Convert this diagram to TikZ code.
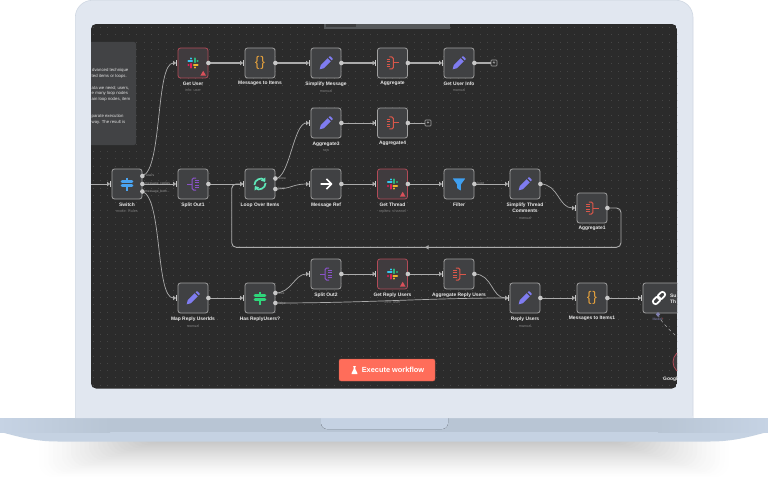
\documentclass[tikz,border=0pt]{standalone}
\usepackage{fontspec}
\setmainfont{Liberation Sans}
\usetikzlibrary{arrows.meta}
\definecolor{lidc}{HTML}{E1E7F0}
\definecolor{lidedge}{HTML}{D0D8E3}
\definecolor{basetop}{HTML}{B8C5D4}
\definecolor{baselight}{HTML}{C6D3E4}
\definecolor{baselow}{HTML}{C5D2E2}
\definecolor{notchedge}{HTML}{C5D2E3}
\definecolor{screenc}{HTML}{2B2B2B}
\definecolor{griddot}{HTML}{454545}
\definecolor{notec}{HTML}{424345}
\definecolor{notchc}{HTML}{55585A}
\definecolor{nodefill}{HTML}{404143}
\definecolor{nodeedge}{HTML}{A0A0A0}
\definecolor{rededge}{HTML}{B24B58}
\definecolor{redfill}{HTML}{403B3E}
\definecolor{wirec}{HTML}{ABABAB}
\definecolor{dotc}{HTML}{C8C8C8}
\definecolor{subc}{HTML}{7C7C7C}
\definecolor{tagc}{HTML}{A0A0A0}
\definecolor{slackblue}{HTML}{36C5F0}
\definecolor{slackgreen}{HTML}{2EB67D}
\definecolor{slackyellow}{HTML}{ECB22E}
\definecolor{slackred}{HTML}{E01E5A}
\definecolor{warnc}{HTML}{D9505A}
\definecolor{penc}{HTML}{7F7CF0}
\definecolor{aggc}{HTML}{D9574A}
\definecolor{splitc}{HTML}{8A52C9}
\definecolor{loopc}{HTML}{5EE6B8}
\definecolor{filterc}{HTML}{3F9FF0}
\definecolor{switchc}{HTML}{4AA3F0}
\definecolor{hasc}{HTML}{2FD67B}
\definecolor{bracec}{HTML}{E8A33D}
\definecolor{btnc}{HTML}{FF6D5A}
\definecolor{btnedge}{HTML}{C95A4A}
\definecolor{modelc}{HTML}{8080B0}
\newcommand\fsz[1]{\fontsize{#1}{#1}\selectfont}
\tikzset{
  wf/.style={draw=nodeedge,fill=nodefill,line width=0.8pt,rounded corners=2.5pt,minimum size=30pt,inner sep=0pt},
  wfred/.style={wf,draw=rededge,fill=redfill},
  wflabel/.style={inner sep=0pt,text=white!92!black,font=\fsz{4.9}\bfseries,align=center},
  wfsub/.style={inner sep=0pt,text=subc,font=\fsz{3.8}},
  wftag/.style={inner sep=0pt,text=tagc,font=\fsz{3.3},anchor=west},
  notetext/.style={inner sep=0pt,text=white!88!black,font=\fsz{4.3},anchor=west},
  wire/.style={draw=wirec,line width=0.9pt,shorten >=1.5pt,-{Triangle[length=3pt,width=4.4pt]}},
  wirethick/.style={wire,line width=1.5pt},
  wireplain/.style={draw=wirec,line width=0.9pt},
  plusbox/.style={draw=nodeedge,rounded corners=0.8pt,line width=0.6pt,minimum size=6pt,inner sep=0pt,text=white,font=\fsz{5}},
  iconslack/.pic={
    \draw[slackblue,line width=2.3pt,line cap=round] (-4.6,-1.7)--(-0.9,-1.7) (-1.7,-4.6)--(-1.7,-4.5);
    \draw[slackgreen,line width=2.3pt,line cap=round] (1.7,-4.6)--(1.7,-0.9) (4.6,-1.7)--(4.5,-1.7);
    \draw[slackyellow,line width=2.3pt,line cap=round] (0.9,1.7)--(4.6,1.7) (1.7,4.6)--(1.7,4.5);
    \draw[slackred,line width=2.3pt,line cap=round] (-1.7,0.9)--(-1.7,4.6) (-4.6,1.7)--(-4.5,1.7);
    \fill[warnc] (10.2,7.8)--(13,12.6)--(7.4,12.6)--cycle;
  },
  iconbrace/.pic={\node[inner sep=0pt,text=bracec,font=\fsz{14}] {\{\kern0.8pt\}};},
  iconpen/.pic={
    \fill[penc] (-6.3,6.3)--(-5.2,2)--(1.6,-4.8)--(4.8,-1.6)--(-2,5.2)--cycle;
    \fill[penc] (2.6,-5.8)--(3.6,-6.6)--(4.6,-6.6)--(6.6,-4.6)--(6.6,-3.6)--(5.8,-2.6)--cycle;
  },
  iconagg/.pic={
    \draw[aggc,line width=0.9pt,line join=round] (-6,-3.9)--(-2.2,-3.9) (-6,-1.3)--(-2.2,-1.3) (-6,1.3)--(-2.2,1.3) (-6,3.9)--(-2.2,3.9);
    \draw[aggc,line width=1pt,rounded corners=1.5pt] (-3.2,-6)--(0.8,-6)--(0.8,6)--(-3.2,6);
    \draw[aggc,line width=1pt] (0.8,0)--(6.5,0);
  },
  iconsplit/.pic={
    \draw[splitc,line width=0.9pt] (6,-3.9)--(2.2,-3.9) (6,-1.3)--(2.2,-1.3) (6,1.3)--(2.2,1.3) (6,3.9)--(2.2,3.9);
    \draw[splitc,line width=1pt,rounded corners=1.5pt] (3.2,-6)--(-0.8,-6)--(-0.8,6)--(3.2,6);
    \draw[splitc,line width=1pt] (-0.8,0)--(-6.5,0);
  },
  iconloop/.pic={
    \draw[loopc,line width=1.7pt,-{Triangle[length=3.6pt,width=5.4pt]}] (-5.6,1) .. controls (-5.6,-5) and (2,-6.5) .. (5.2,-2);
    \draw[loopc,line width=1.7pt,-{Triangle[length=3.6pt,width=5.4pt]}] (5.6,-1) .. controls (5.6,5) and (-2,6.5) .. (-5.2,2);
  },
  iconarrow/.pic={
    \draw[white,line width=1.6pt,line join=round] (-5.5,0)--(5.5,0) (0.4,-5)--(5.5,0)--(0.4,5);
  },
  iconfilter/.pic={
    \fill[filterc,rounded corners=0.5pt] (-6.3,-5.6)--(6.3,-5.6)--(1.8,0.6)--(1.8,6.6)--(-1.8,4.4)--(-1.8,0.6)--cycle;
  },
  iconswitch/.pic={
    \draw[switchc,line width=2.7pt,line cap=round] (-5,-2.8)--(5,-2.8) (-5,1.8)--(5,1.8);
    \draw[switchc,line width=1.5pt] (0,-6.5)--(0,-4) (0,3)--(0,6.5);
  },
  iconhas/.pic={
    \draw[hasc,line width=2.7pt,line cap=round] (-5,-2.8)--(5,-2.8) (-5,1.8)--(5,1.8);
    \draw[hasc,line width=1.5pt] (0,-6.5)--(0,-4) (0,3)--(0,6.5);
  },
  iconlink/.pic={
    \draw[white,line width=1.7pt,rounded corners=2.4pt,rotate=45] (-7.5,-2.6) rectangle (0.8,2.6);
    \draw[white,line width=1.7pt,rounded corners=2.4pt,rotate=45] (-0.8,-2.6) rectangle (7.5,2.6);
  },
  iconflask/.pic={
    \fill[white] (-1.6,-5)--(1.6,-5)--(1.6,-4.2)--(1.1,-4.2)--(1.1,-1)--(3.7,4)--(3.7,5)--(-3.7,5)--(-3.7,4)--(-1.1,-1)--(-1.1,-4.2)--(-1.6,-4.2)--cycle;
  }
}
% [node style]{name}{x}{y}{icon}{label}{sublabel}
\newcommand\wfnode[7][wf]{%
  \node[#1] (#2) at (#3,#4) {};
  \pic at (#2) {#5};
  \node[wflabel,anchor=north] (#2-l) at ([yshift=-3pt]#2.south) {#6};
  \if\relax\detokenize{#7}\relax\else
    \node[wfsub,anchor=north] (#2-s) at ([yshift=-3.2pt]#2-l.south) {#7};
  \fi
}
\begin{document}
\begin{tikzpicture}[x=1pt,y=-1pt]
\useasboundingbox (0,0) rectangle (768,484);
\fill[white] (0,0) rectangle (768,484);
% shadow under the laptop
\begin{scope}
  \clip (0,441) rectangle (768,484);
  \foreach \i in {0,...,24}{
    \pgfmathsetmacro\ins{35+\i*4.5}
    \pgfmathsetmacro\bot{478-\i*1.5}
    \pgfmathsetmacro\shd{22*(\i/24)^1.3}
    \fill[black!\shd!white,rounded corners=14pt] (\ins,420) rectangle ({768-\ins},\bot);
  }
\end{scope}
% base
\fill[baselow] (0,418)--(0.5,432) .. controls (18,436.5) and (34,441.5) .. (58,441.5)--(710,441.5) .. controls (734,441.5) and (750,436.5) .. (767.5,432)--(768,418)--cycle;
\fill[left color=baselight,right color=basetop] (0,418) rectangle (110,432);
\fill[basetop] (110,418) rectangle (658,432);
\fill[right color=baselight,left color=basetop] (658,418) rectangle (768,432);
\fill[left color=notchedge,middle color=lidc,right color=notchedge,rounded corners=6pt] (321,412) rectangle (448,429);
% lid
\draw[lidedge,fill=lidc,line width=0.6pt,rounded corners=17pt] (75.3,418)--(75.3,0.3)--(693,0.3)--(693,418);
\fill[lidc] (75.7,416) rectangle (692.6,418);
% screen
\begin{scope}
\clip[rounded corners=5pt] (91,24) rectangle (677,388.5);
\fill[screenc] (91,24) rectangle (677,389);
\foreach \gx in {0,...,80}{
  \draw[griddot,line width=0.75pt,dash pattern=on 0.75pt off 6.55pt] ({93+\gx*7.3},27) -- ({93+\gx*7.3},389);
}
\fill[notchc] (324,24) rectangle (450,29.5);
\fill[screenc!60!notchc] (326,24) rectangle (356,27);
% sticky note
\fill[notec,rounded corners=2pt] (80,42) rectangle (136,145);
\node[notetext] (n1) at (92,70.7) {dvanced technique};
\node[notetext] (n2) at (91.5,76.3) {ted items or loops.};
\node[notetext] (n3) at (91.5,88) {ata we need; users,};
\node[notetext] (n4) at (91.5,93.7) {e many loop nodes};
\node[notetext] (n5) at (91.5,99.3) {ain loop nodes, item};
\node[notetext] (n6) at (91.5,116.7) {parate execution};
\node[notetext] (n7) at (91.5,122.3) {way. The result is};
% nodes
\wfnode[wfred]{getuser}{193}{63}{iconslack}{Get User}{info: user}
\wfnode{msgitems}{260}{63}{iconbrace}{Messages to Items}{}
\wfnode{simplifymsg}{326}{63}{iconpen}{Simplify Message}{manual}
\wfnode{aggregate}{392.5}{63}{iconagg}{Aggregate}{}
\wfnode{getuserinfo}{459}{63}{iconpen}{Get User Info}{manual}
\node[plusbox] (plusa) at (494,63) {+};
\wfnode{aggthree}{326}{123}{iconpen}{Aggregate3}{raw}
\wfnode{aggfour}{392.5}{123}{iconagg}{Aggregate4}{}
\node[plusbox] (plusb) at (428,123) {+};
\wfnode{switch}{127}{184}{iconswitch}{Switch}{mode: Rules}
\wfnode{splitone}{193}{184}{iconsplit}{Split Out1}{}
\wfnode{loopover}{260}{184}{iconloop}{Loop Over Items}{}
\wfnode{msgref}{326}{184}{iconarrow}{Message Ref}{}
\wfnode[wfred]{getthread}{392.5}{184}{iconslack}{Get Thread}{replies: channel}
\wfnode{filter}{459}{184}{iconfilter}{Filter}{}
\wfnode{simplifythread}{525}{184}{iconpen}{Simplify Thread\\[1.8pt]Comments}{manual}
\wfnode{aggone}{592}{208}{iconagg}{Aggregate1}{}
\wfnode{splittwo}{326}{274}{iconsplit}{Split Out2}{}
\wfnode[wfred]{getreply}{392.5}{274}{iconslack}{Get Reply Users}{info: user}
\wfnode{aggreply}{459}{274}{iconagg}{Aggregate Reply Users}{}
\wfnode{mapreply}{193}{298}{iconpen}{Map Reply UserIds}{manual}
\wfnode{hasreply}{260}{298}{iconhas}{Has ReplyUsers?}{}
\wfnode{replyusers}{525}{298}{iconpen}{Reply Users}{manual}
\wfnode{msgitemsb}{592}{298}{iconbrace}{Messages to Items1}{}
\node[wf,minimum width=80pt] (link) at (683,298) {};
\pic at (659,298) {iconlink};
\node[wflabel,anchor=west] (linka) at (670,295.5) {Su};
\node[wflabel,anchor=west] (linkb) at (670,301.7) {Th};
\node[draw=rededge,fill=redfill,circle,line width=0.8pt,minimum size=24pt,inner sep=0pt] (google) at (685,362) {};
\node[wflabel,anchor=west] (googlel) at (663,379) {Googl};
% free ends and extra output ports
\coordinate (incoming) at (85,184);
\coordinate (swA) at ([yshift=8pt]switch.east);
\coordinate (swC) at ([yshift=-7.5pt]switch.east);
\coordinate (loopA) at ([yshift=5.5pt]loopover.east);
\coordinate (loopB) at ([yshift=-5pt]loopover.east);
\coordinate (hasA) at ([yshift=5pt]hasreply.east);
\coordinate (hasB) at ([yshift=-5pt]hasreply.east);
\coordinate (modelport) at (658,314.5);
\coordinate (backa) at (621,247.3);
\coordinate (backb) at (231.7,247.3);
\coordinate (backmid) at (425,247.3);
% connectors
\draw[wire] (incoming) -- (switch.west);
\draw[wire,line width=0.7pt] (swA) .. controls +(20,-6) and +(-22,0) .. (getuser.west);
\draw[wire] (switch.east) -- (splitone.west);
\draw[wire,line width=0.7pt] (swC) .. controls +(20,6) and +(-22,0) .. (mapreply.west);
\draw[wirethick] (getuser.east) -- (msgitems.west);
\draw[wirethick] (msgitems.east) -- (simplifymsg.west);
\draw[wirethick] (simplifymsg.east) -- (aggregate.west);
\draw[wirethick] (aggregate.east) -- (getuserinfo.west);
\draw[wireplain,line width=1.5pt] (getuserinfo.east) -- (plusa.west);
\draw[wire] (aggthree.east) -- (aggfour.west);
\draw[wireplain] (aggfour.east) -- (plusb.west);
\draw[wire] (splitone.east) -- (loopover.west);
\draw[wire,line width=0.7pt] (loopA) .. controls +(14,0) and +(-17,0) .. (aggthree.west);
\draw[wire,line width=0.7pt] (loopB) .. controls +(16,0) and +(-18,0) .. (msgref.west);
\draw[wire] (msgref.east) -- (getthread.west);
\draw[wire] (getthread.east) -- (filter.west);
\draw[wire] (filter.east) -- (simplifythread.west);
\draw[wire,line width=0.7pt] (simplifythread.east) .. controls +(18,0) and +(-18,0) .. (aggone.west);
\draw[wire,rounded corners=4.5pt] (aggone.east) -- (aggone.east -| backa) -- (backa) -- (backb) -- (backb |- loopover.west) -- (loopover.west);
\fill[wirec] (backmid) -- ++(3.6,-2.2) -- ++(0,4.4) -- cycle;
\draw[wire] (mapreply.east) -- (hasreply.west);
\draw[wire,line width=0.7pt] (hasA) .. controls +(16,0) and +(-16,0) .. (splittwo.west);
\draw[wire,line width=0.7pt] (hasB) .. controls +(90,0) and +(-80,0) .. (replyusers.west);
\draw[wire] (splittwo.east) -- (getreply.west);
\draw[wire] (getreply.east) -- (aggreply.west);
\draw[wire,line width=0.7pt] (aggreply.east) .. controls +(18,0) and +(-18,0) .. (replyusers.west);
\draw[wire] (replyusers.east) -- (msgitemsb.west);
\draw[wire] (msgitemsb.east) -- (link.west);
\draw[wirec,line width=0.5pt,dashed] (modelport) .. controls +(4,14) and +(28,15) .. (google.north);
% ports
\foreach \n in {switch,splitone,loopover,msgref,getthread,filter,simplifythread,aggone,getuser,msgitems,simplifymsg,aggregate,getuserinfo,aggthree,aggfour,splittwo,getreply,aggreply,mapreply,hasreply,replyusers,msgitemsb,link}{
  \fill[dotc] ([xshift=-2pt,yshift=-2.6pt]\n.west) rectangle ([xshift=-0.8pt,yshift=2.6pt]\n.west);
}
\foreach \n in {splitone,msgref,getthread,filter,simplifythread,aggone,getuser,msgitems,simplifymsg,aggregate,getuserinfo,aggthree,aggfour,splittwo,getreply,aggreply,mapreply,replyusers,msgitemsb,switch}{
  \fill[dotc] (\n.east) circle (2.3pt);
}
\foreach \n in {swA,swC,loopA,loopB,hasA,hasB}{
  \fill[dotc] (\n) circle (2.3pt);
}
\fill[modelc] (658,312)--(660.2,314.4)--(658,316.8)--(655.8,314.4)--cycle;
% port tags
\node[wftag] (tag1) at (146,176) {users};
\node[wftag] (tag2) at (145,184) {message\_replies};
\node[wftag] (tag3) at (145,191.5) {message\_both...};
\node[wftag] (tag4) at (278.5,178.7) {done};
\node[wftag] (tag5) at (278.5,189) {loop};
\node[wftag] (tag6) at (278.5,293.3) {true};
\node[wftag] (tag7) at (278.5,303.3) {false};
\node[wftag] (tag8) at (477.5,184) {kept};
\node[inner sep=0pt,font=\fsz{3.5},text=modelc] (modeltag) at (658,319) {Model\textcolor{warnc}{*}};
% execute button
\node[fill=btnc,draw=btnedge,line width=0.4pt,rounded corners=2pt,minimum width=96pt,minimum height=22pt,inner sep=0pt] (execute) at (387,370) {};
\pic[scale=0.8] at (354.5,370) {iconflask};
\node[inner sep=0pt,text=white,font=\fsz{7.4}\bfseries] (executel) at (393,370) {Execute workflow};
\end{scope}
\end{tikzpicture}
\end{document}
